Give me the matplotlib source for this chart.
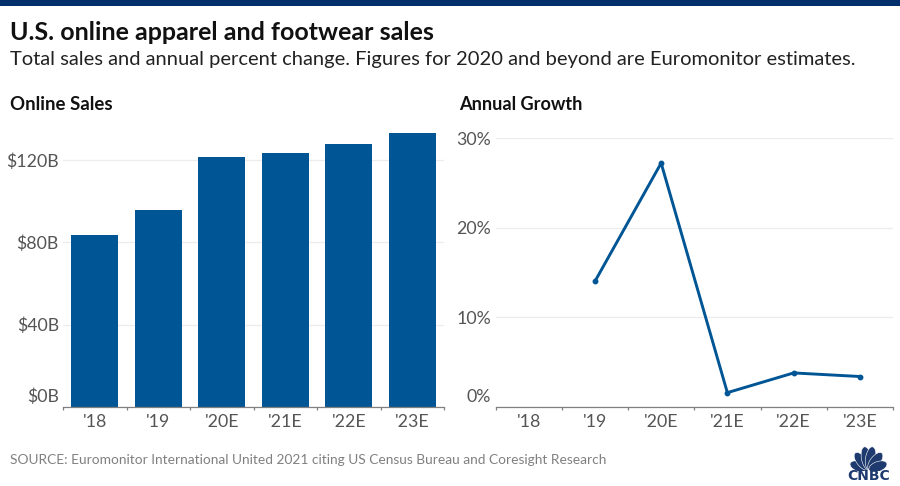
import matplotlib
matplotlib.use("Agg")
import numpy as np
import matplotlib.pyplot as plt
from matplotlib.patches import Rectangle, Ellipse
from matplotlib.transforms import ScaledTranslation

plt.rcParams["font.family"] = ["Lato", "DejaVu Sans"]

W, H = 900, 486
BLUE = "#005594"
NAVY = "#002f6c"
LOGO = "#1f3a6e"
GRID = "#ececee"
TEXT = "#555555"

years = ["'18", "'19", "'20E", "'21E", "'22E", "'23E"]
sales = [83.6, 95.5, 121.5, 123.5, 128.0, 133.0]
growth = [np.nan, 14.0, 27.2, 1.6, 3.8, 3.4]
sales_ticks = [0, 40, 80, 120]
sales_tick_labels = ["$0B", "$40B", "$80B", "$120B"]
growth_ticks = [0, 10, 20, 30]
growth_tick_labels = ["0%", "10%", "20%", "30%"]


def px_axes(fig, left, right, top, bottom):
    return fig.add_axes([left / W, 1 - bottom / H, (right - left) / W, (bottom - top) / H])


def style_axes(ax, ticks, tick_labels):
    for side in ["top", "right", "left"]:
        ax.spines[side].set_visible(False)
    ax.spines["bottom"].set_color("#808080")
    ax.spines["bottom"].set_linewidth(0.9)
    ax.set_xlim(-0.5, 5.5)
    ax.set_xticks(np.arange(-0.5, 6, 1))
    ax.set_xticklabels([])
    ax.set_xticks(np.arange(6), labels=years, minor=True)
    ax.tick_params(axis="x", which="major", length=2, width=0.9, color="#808080")
    ax.tick_params(axis="x", which="minor", length=0, pad=5, labelsize=12.8, labelcolor=TEXT)
    ax.set_yticks(ticks, labels=tick_labels)
    ax.tick_params(axis="y", length=0, pad=3, labelsize=12.8, labelcolor=TEXT)
    ax.grid(axis="y", color=GRID, linewidth=0.9)
    ax.set_axisbelow(True)
    # the zero label sits above the baseline
    shift = ScaledTranslation(0, 8.6 / 72, ax.figure.dpi_scale_trans)
    lab = ax.get_yticklabels()[0]
    lab.set_transform(lab.get_transform() + shift)


fig = plt.figure(figsize=(W / 100, H / 100), dpi=100, facecolor="white")

fig.add_artist(Rectangle((0, 1 - 6 / H), 1, 6 / H, transform=fig.transFigure, color=NAVY, lw=0))

fig.text(10 / W, 1 - 33 / H, "U.S. online apparel and footwear sales", fontsize=18,
         fontweight="bold", color="#111111", va="center")
fig.text(10 / W, 1 - 60 / H, "Total sales and annual percent change. Figures for 2020 and beyond are Euromonitor estimates.",
         fontsize=14.48, color="#222222", va="center")
fig.text(10 / W, 1 - 104 / H, "Online Sales", fontsize=13.4, fontweight="bold", color="#111111", va="center")
fig.text(459 / W, 1 - 104 / H, "Annual Growth", fontsize=13.1, fontweight="bold", color="#111111", va="center")

ax1 = px_axes(fig, 63, 444, 130, 407)
ax1.bar(np.arange(6), sales, width=0.745, color=BLUE, zorder=2)
ax1.set_ylim(0, 277 / 2.058)
style_axes(ax1, sales_ticks, sales_tick_labels)

ax2 = px_axes(fig, 495.5, 893, 138, 407)
ax2.plot(np.arange(6), growth, color=BLUE, linewidth=2.1, marker="o", markersize=3.2, clip_on=False, zorder=2)
ax2.set_ylim(0, 30)
style_axes(ax2, growth_ticks, growth_tick_labels)

fig.text(10 / W, 1 - 460 / H, "SOURCE: Euromonitor International United 2021 citing US Census Bureau and Coresight Research",
         fontsize=9.95, color="#808080", va="center")

# CNBC logo: peacock feathers over the wordmark
logo = fig.add_axes([845 / W, 1 - 482 / H, 46 / W, 38 / H])
logo.set_xlim(0, 46)
logo.set_ylim(0, 38)
logo.axis("off")
feather_angles = [160, 128, 100, 80, 52, 20]
feather_lengths = [19, 21, 23, 23, 21, 19]
for ang, length in zip(feather_angles, feather_lengths):
    rad = np.radians(ang)
    cx = 23.5 + (length / 2 + 0.5) * np.cos(rad)
    cy = 12 + (length / 2 + 0.5) * np.sin(rad)
    logo.add_patch(Ellipse((cx, cy), length, 10, angle=ang, facecolor=LOGO, edgecolor="white", lw=0.4))
logo.add_patch(Rectangle((0, 0), 46, 11.5, facecolor="white", lw=0))
logo.text(23.5, 6.5, "CNBC", fontsize=10, fontweight="bold", color=LOGO, ha="center", va="center",
          family=["DejaVu Sans"])

fig.savefig("out.png", dpi=100)
